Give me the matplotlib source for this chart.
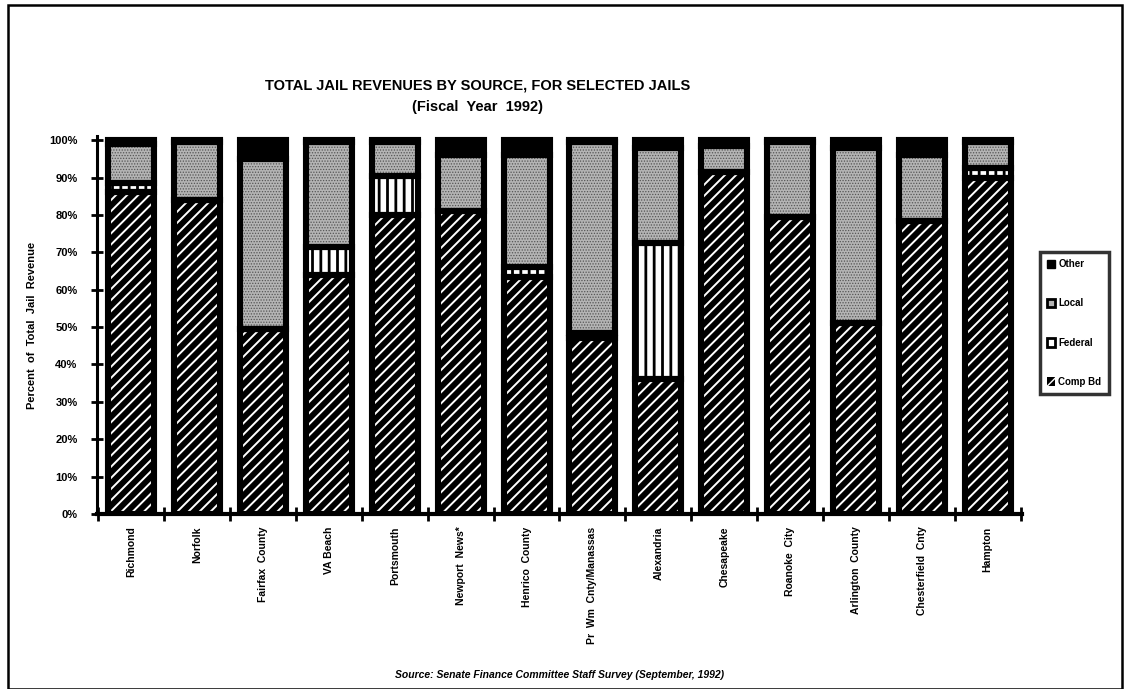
import numpy as np
import matplotlib
matplotlib.use("Agg")
import matplotlib.pyplot as plt
from matplotlib.patches import Patch, Rectangle

# revenue shares (percent of total) per jail, FY 1992
jails = ["Richmond", "Norfolk", "Fairfax  County", "VA Beach", "Portsmouth",
         "Newport  News*", "Henrico  County", "Pr  Wm  Cnty/Manassas", "Alexandria",
         "Chesapeake", "Roanoke  City", "Arlington  County", "Chesterfield  Cnty", "Hampton"]
comp_bd = [86, 84, 49.5, 64, 80, 81, 63.5, 47, 36, 91.5, 79.5, 51, 78.5, 90]
federal = [2.5, 0, 0, 7.5, 10.5, 0, 2.5, 1.5, 36.5, 0, 0, 0, 0, 2.5]
local = [10.5, 15.5, 45.5, 28, 9, 15, 30, 51, 25.5, 7, 20, 47, 17.5, 7]
other = [1, 0.5, 5, 0.5, 0.5, 4, 4, 0.5, 2, 1.5, 0.5, 2, 4, 0.5]
yticks = [0, 10, 20, 30, 40, 50, 60, 70, 80, 90, 100]

plt.rcParams['font.family'] = ['Liberation Sans', 'DejaVu Sans']
plt.rcParams['font.weight'] = 'bold'

fig = plt.figure(figsize=(11.27, 6.89), dpi=100)
ax = fig.add_axes([0.0861, 0.254, 0.8207, 0.548])

# (name, values, face, hatch colour, hatch, hatch linewidth)
styles = [
    ("Comp Bd", comp_bd, "black", "white", "///", 1.4),
    ("Federal", federal, "white", "black", "||", 2.0),
    ("Local", local, "#b4b4b4", "#555555", "......", 0.6),
    ("Other", other, "black", "black", None, 1.0),
]

x = np.arange(len(jails))
w = 0.70
bottom = np.zeros(len(jails))
for name, vals, face, hcol, hatch, hlw in styles:
    vals = np.array(vals, dtype=float)
    with plt.rc_context({'hatch.linewidth': hlw}):
        bars = ax.bar(x, vals, w, bottom=bottom, facecolor=face, edgecolor=hcol,
                      hatch=hatch, linewidth=0, zorder=2)
    for b in bars:
        if hasattr(b, "set_hatch_linewidth"):
            b.set_hatch_linewidth(hlw)
    # black outline of each segment
    ax.bar(x, vals, w, bottom=bottom, facecolor='none', edgecolor='black',
           linewidth=4.4, zorder=3)
    bottom += vals

ax.set_xlim(-0.52, 13.52)
ax.set_ylim(0, 101)
ax.set_yticks(yticks)
ax.set_yticklabels([f"{v}%" for v in yticks], fontsize=8, fontweight='bold')
ax.set_xticks(list(x - 0.5) + [x[-1] + 0.5])
ax.set_xticklabels([])
ax.set_xticks(x, minor=True)
ax.set_xticklabels(jails, minor=True, rotation=90, fontsize=7.5, fontweight='bold',
                   va='top', ha='center')
ax.tick_params(axis='x', which='minor', length=0, pad=9)
ax.tick_params(axis='x', which='major', direction='inout', length=10, width=2)
ax.tick_params(axis='y', direction='inout', length=8, width=2, pad=10)

for s in ['top', 'right']:
    ax.spines[s].set_visible(False)
ax.spines['left'].set_linewidth(2.2)
ax.spines['bottom'].set_linewidth(3)

ax.set_ylabel("Percent  of  Total  Jail  Revenue", fontsize=8, fontweight='bold')
ax.yaxis.set_label_coords(-0.065, 0.5)

fig.text(478 / 1127, 1 - 86 / 689, "TOTAL JAIL REVENUES BY SOURCE, FOR SELECTED JAILS",
         ha='center', va='center', fontsize=10.5, fontweight='heavy')
fig.text(478 / 1127, 1 - 107 / 689, "(Fiscal  Year  1992)",
         ha='center', va='center', fontsize=10.5, fontweight='heavy')
fig.text(560 / 1127, 1 - 675 / 689,
         "Source: Senate Finance Committee Staff Survey (September, 1992)",
         ha='center', va='center', fontsize=7.5, fontweight='bold', style='italic')

handles = [
    Patch(facecolor='black', edgecolor='black', label='Other'),
    Patch(facecolor='#b4b4b4', edgecolor='black', linewidth=2, label='Local'),
    Patch(facecolor='white', edgecolor='black', linewidth=2, label='Federal'),
    Patch(facecolor='black', edgecolor='white', hatch='//', linewidth=0, label='Comp Bd'),
]
leg = fig.legend(handles=handles, loc='upper left',
                 bbox_to_anchor=(1040 / 1127, 1 - 252 / 689), borderaxespad=0,
                 fontsize=7, frameon=True, fancybox=False, handlelength=0.8,
                 handleheight=1.0, handletextpad=0.35, labelspacing=3.0,
                 borderpad=0.75)
leg.get_frame().set_edgecolor('black')
leg.get_frame().set_linewidth(2.5)

# page frame
fig.patches.append(Rectangle((8 / 1127, 0.0), 1114 / 1127, 1 - 5 / 689,
                             transform=fig.transFigure, fill=False,
                             edgecolor='black', linewidth=1.8))

fig.savefig("out.png", dpi=100)
